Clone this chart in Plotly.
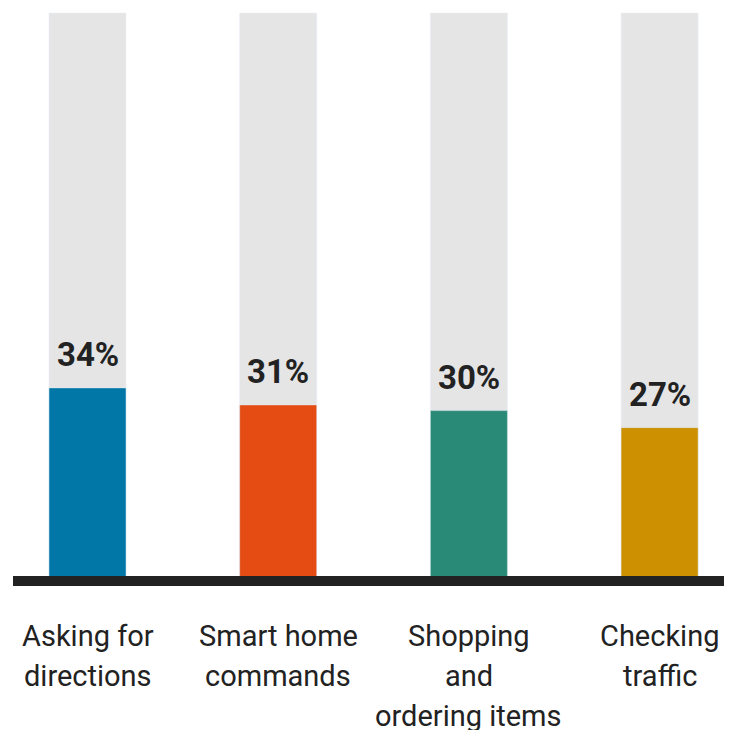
import plotly.graph_objects as go

categories = ["Asking for directions", "Smart home commands", "Shopping and ordering items", "Checking traffic"]
label_lines = [["Asking for", "directions"], ["Smart home", "commands"], ["Shopping", "and", "ordering items"], ["Checking", "traffic"]]
values = [34, 31, 30, 27]
track = [100, 100, 100, 100]
colors = ["#0077A6", "#E54C13", "#2A8A78", "#CC9000"]

W, H = 731, 730
base_px = 581
top_px = 13
ppu = (base_px - top_px) / 100.0
y_lo = -(H - base_px) / ppu
y_hi = base_px / ppu

x_center0 = 87.5
x_step = 190.7
x_lo = -x_center0 / x_step
x_hi = (W - x_center0) / x_step

xs = list(range(len(categories)))

fig = go.Figure()
fig.add_trace(go.Bar(x=xs, y=track, marker_color="#E5E5E5", width=0.404, hoverinfo="skip"))
fig.add_trace(go.Bar(x=xs, y=values, marker_color=colors, width=0.404))

annotations = []
for i, v in enumerate(values):
    annotations.append(dict(x=i, y=v, text=f"<b>{v}%</b>", showarrow=False, yanchor="middle",
                            yshift=33, font=dict(family="Roboto", size=33, color="#222222")))
for i, lines in enumerate(label_lines):
    for j, ln in enumerate(lines):
        ypx = 636 + 40 * j
        annotations.append(dict(x=i, y=(base_px - ypx) / ppu, text=ln, showarrow=False, yanchor="middle",
                                font=dict(family="Roboto", size=29, color="#222222")))

fig.update_layout(
    width=W, height=H, margin=dict(l=0, r=0, t=0, b=0),
    paper_bgcolor="white", plot_bgcolor="white",
    barmode="overlay", showlegend=False,
    xaxis=dict(range=[x_lo, x_hi], visible=False, fixedrange=True),
    yaxis=dict(range=[y_lo, y_hi], visible=False, fixedrange=True),
    annotations=annotations,
    shapes=[dict(type="rect", xref="paper", yref="y", x0=13 / W, x1=724 / W,
                 y0=-5 / ppu, y1=5 / ppu, fillcolor="#222222", line=dict(width=0))],
)
fig.write_html("out.html")
